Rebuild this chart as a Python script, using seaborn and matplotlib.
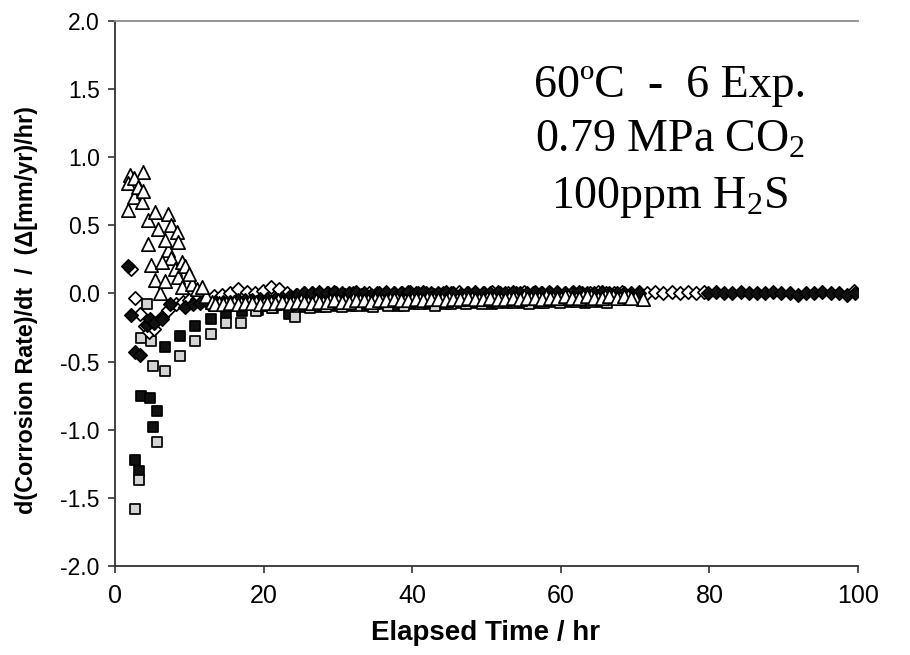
import numpy as np
import pandas as pd
import matplotlib
matplotlib.use("Agg")
import matplotlib.pyplot as plt
import seaborn as sns

# ---------------- data ----------------
# Black diamonds
bd_t_early = [1.8, 2.2, 2.7, 3.4, 4.3, 4.7, 5.2, 6.3, 7.4, 9.4]
bd_v_early = [0.20, -0.16, -0.43, -0.45, -0.23, -0.19, -0.22, -0.19, -0.08, -0.10]
bd_tail1_start, bd_tail1_step = 10.5, 1.0
bd_v_tail1 = [-0.08, -0.07, -0.07, -0.06, -0.06, -0.06, -0.05, -0.05, -0.05, -0.04,
              -0.04, -0.04, -0.03, -0.02, -0.01, 0.00, 0.00, 0.01, 0.00, 0.01,
              0.00, 0.00, 0.01, 0.00, -0.01, 0.00, 0.01, 0.00, 0.00, 0.01,
              0.00, 0.01, 0.00, 0.00, 0.01, 0.00, -0.01, 0.00, 0.01, 0.00,
              0.00, 0.01, 0.00, 0.01, 0.00, 0.00, 0.01, 0.00, 0.00, 0.01,
              0.00, 0.00, 0.01, 0.00, 0.00, 0.01, 0.00, 0.00, 0.00, -0.01, 0.00]
bd_tail2_start, bd_tail2_step = 79.8, 1.1
bd_v_tail2 = [0.00, 0.01, 0.00, 0.00, 0.01, 0.00, 0.00, 0.00, 0.01, 0.00,
              0.00, -0.01, 0.00, 0.00, 0.01, 0.00, 0.00, -0.01, 0.00]

# White diamonds
wd_t_early = [2.2, 2.7, 3.4, 4.0, 4.6, 5.2, 6.3, 7.2, 8.2, 9.1]
wd_v_early = [0.18, -0.03, -0.15, -0.24, -0.28, -0.26, -0.17, -0.12, -0.08, -0.06]
wd_tail_start, wd_tail_step = 10.0, 1.1
wd_v_tail = [-0.05, -0.04, -0.03, -0.02, -0.01, 0.00, 0.03, 0.01, 0.00, 0.02,
             0.05, 0.03, 0.00, -0.01, 0.00, 0.00, -0.01, 0.00, 0.00, -0.01,
             0.00, -0.01, 0.00, 0.00, -0.01, 0.00, 0.00, 0.01, 0.00, 0.00,
             -0.01, 0.00, 0.00, 0.01, 0.00, 0.00, 0.00, 0.01, 0.00, 0.00,
             0.00, 0.01, 0.00, 0.00, 0.01, 0.00, 0.00, 0.01, 0.00, 0.00,
             0.01, 0.00, 0.00, 0.01, 0.00, 0.01, 0.00, 0.01, 0.00, 0.01,
             0.00, 0.01, 0.00, 0.01]
wd_t_last = [99.4]
wd_v_last = [0.02]

# Black squares
bs_t_early = [2.7, 3.2, 3.5, 4.7, 5.1, 5.6, 6.7, 8.8, 10.8, 12.9]
bs_v_early = [-1.22, -1.30, -0.75, -0.77, -0.98, -0.86, -0.39, -0.31, -0.24, -0.19]
bs_tail_start, bs_tail_step = 15.0, 2.1
bs_v_tail = [-0.15, -0.13, -0.12, -0.11, -0.15, -0.10, -0.10, -0.09, -0.09, -0.09,
             -0.08, -0.09, -0.08, -0.08, -0.08, -0.07, -0.07, -0.08, -0.07, -0.07,
             -0.07, -0.06, -0.06, -0.07, -0.06]

# Grey squares
gs_t_early = [2.7, 3.2, 3.5, 4.3, 4.8, 5.1, 5.6, 6.7, 8.75, 10.8, 12.9, 15.0, 16.9, 19.0, 21.1, 24.2]
gs_v_early = [-1.58, -1.37, -0.33, -0.08, -0.35, -0.53, -1.09, -0.57, -0.46, -0.35, -0.30,
              -0.22, -0.22, -0.13, -0.11, -0.175]
gs_tail_start, gs_tail_step = 26.3, 2.1
gs_v_tail = [-0.11, -0.10, -0.10, -0.09, -0.10, -0.09, -0.09, -0.08, -0.09, -0.08,
             -0.08, -0.08, -0.07, -0.07, -0.08, -0.07, -0.07, -0.06, -0.06, -0.07]

# Open triangles, experiment A
ta_t_early = [1.8, 2.0, 2.5, 3.6, 3.8, 4.5, 4.9, 5.4, 6.1, 6.7, 7.2, 7.6, 8.1, 8.5, 9.0, 10.3, 11.0, 12.3]
ta_v_early = [0.61, 0.87, 0.71, 0.67, 0.89, 0.36, 0.21, 0.10, 0.00, 0.09, 0.32, 0.26, 0.18,
              0.12, 0.05, 0.07, 0.03, -0.02]
ta_tail_start, ta_tail_step = 13.0, 1.0
ta_v_tail = [-0.06, -0.07, -0.07, -0.06, -0.07, -0.06, -0.06, -0.07,
             -0.06, -0.05, -0.06, -0.06, -0.05, -0.06, -0.05, -0.06, -0.05, -0.05,
             -0.05, -0.04, -0.05, -0.05, -0.04, -0.05, -0.04, -0.04, -0.05, -0.04,
             -0.04, -0.03, -0.04, -0.04, -0.03, -0.04, -0.03, -0.03, -0.04, -0.03,
             -0.03, -0.04, -0.03, -0.03, -0.02, -0.03, -0.03, -0.02, -0.03, -0.03,
             -0.02, -0.03, -0.02, -0.02, -0.03, -0.02, -0.02, -0.03, -0.02, -0.03, -0.04]

# Open triangles, experiment B
tb_t_early = [1.8, 2.5, 3.1, 3.8, 4.5, 5.4, 5.8, 6.3, 6.7, 7.2, 7.6, 8.3, 8.5, 9.0, 9.4, 9.9, 11.7]
tb_v_early = [0.81, 0.85, 0.78, 0.75, 0.54, 0.60, 0.47, 0.23, 0.39, 0.58, 0.50, 0.45, 0.38,
              0.23, 0.20, 0.14, 0.05]
tb_tail_start, tb_tail_step = 13.5, 1.0
tb_v_tail = [-0.08, -0.08, -0.07, -0.08, -0.07, -0.07, -0.08, -0.07,
             -0.07, -0.06, -0.07, -0.06, -0.06, -0.07, -0.06, -0.06, -0.05, -0.06,
             -0.06, -0.05, -0.05, -0.06, -0.05, -0.05, -0.04, -0.05, -0.05, -0.04,
             -0.05, -0.04, -0.04, -0.05, -0.04, -0.04, -0.03, -0.04, -0.04, -0.03,
             -0.04, -0.04, -0.03, -0.04, -0.03, -0.03, -0.04, -0.03, -0.03, -0.02,
             -0.03, -0.03, -0.02, -0.03, -0.03, -0.02, -0.03, -0.02, -0.03]

x_ticks = [0, 20, 40, 60, 80, 100]
y_ticks = [-2.0, -1.5, -1.0, -0.5, 0.0, 0.5, 1.0, 1.5, 2.0]
annotation_lines = ["60ºC  -  6 Exp.", "0.79 MPa CO$_\\mathrm{2}$", "100ppm H$_\\mathrm{2}$S"]
x_label = "Elapsed Time / hr"
y_label = "d(Corrosion Rate)/dt  /  (Δ[mm/yr)/hr)"


def build(early_t, early_v, tails):
    t = list(early_t)
    v = list(early_v)
    for start, step, vals in tails:
        t += [start + step * i for i in range(len(vals))]
        v += list(vals)
    return pd.DataFrame({"t": t, "v": v})


df_bd = build(bd_t_early, bd_v_early, [(bd_tail1_start, bd_tail1_step, bd_v_tail1),
                                         (bd_tail2_start, bd_tail2_step, bd_v_tail2)])
df_wd = build(wd_t_early + wd_t_last, wd_v_early + wd_v_last, [(wd_tail_start, wd_tail_step, wd_v_tail)])
df_bs = build(bs_t_early, bs_v_early, [(bs_tail_start, bs_tail_step, bs_v_tail)])
df_gs = build(gs_t_early, gs_v_early, [(gs_tail_start, gs_tail_step, gs_v_tail)])
df_ta = build(ta_t_early, ta_v_early, [(ta_tail_start, ta_tail_step, ta_v_tail)])
df_tb = build(tb_t_early, tb_v_early, [(tb_tail_start, tb_tail_step, tb_v_tail)])

# ---------------- style ----------------
sns.set_theme(style="white")
plt.rcParams["font.family"] = ["Liberation Sans", "DejaVu Sans"]
plt.rcParams["text.color"] = "black"
plt.rcParams["axes.labelcolor"] = "black"
plt.rcParams["xtick.color"] = "black"
plt.rcParams["ytick.color"] = "black"
plt.rcParams["mathtext.fontset"] = "custom"
plt.rcParams["mathtext.rm"] = "Liberation Serif"
plt.rcParams["mathtext.it"] = "Liberation Serif:italic"

fig = plt.figure(figsize=(9.1, 6.55), dpi=100)
ax = fig.add_axes([115 / 910, 1 - 566 / 655, (858 - 115) / 910, (566 - 21) / 655])

ew = 1.25
layers = [
    (df_bs, "s", "#111111", 62, 2),
    (df_gs, "s", "#d4d4d4", 62, 3),
    (df_wd, "D", "white", 46, 4),
    (df_bd, "D", "#111111", 46, 5),
    (df_ta, "^", "white", 92, 6),
    (df_tb, "^", "white", 92, 7),
]
for d, mk, fc, s, z in layers:
    sns.scatterplot(data=d, x="t", y="v", marker=mk, color=fc, edgecolor="black",
                    linewidth=ew, s=s, ax=ax, zorder=z, legend=False)

ax.set_xlim(0, 100)
ax.set_ylim(-2, 2)
ax.set_xticks(x_ticks)
ax.set_xticklabels([str(x) for x in x_ticks])
ax.set_yticks(y_ticks)
ax.set_yticklabels([f"{y:.1f}" for y in y_ticks])

for side in ["left", "bottom"]:
    ax.spines[side].set_color("#333333")
    ax.spines[side].set_linewidth(1.3)
ax.spines["top"].set_color("#8c8c8c")
ax.spines["top"].set_linewidth(1.3)
ax.spines["right"].set_visible(False)

ax.tick_params(axis="both", which="major", direction="out", length=5, width=1.2,
               color="#333333", labelcolor="black", left=True, bottom=True)
ax.tick_params(axis="y", labelsize=16.5, pad=6)
ax.tick_params(axis="x", labelsize=18, pad=8)

ax.set_xlabel(x_label, fontsize=20, fontweight="bold", color="black")
ax.xaxis.set_label_coords(0.498, -0.1)
ax.set_ylabel(y_label, fontsize=16.8, fontweight="bold", color="black")
ax.yaxis.set_label_coords(-0.104, 0.47)

ys = [1.444, 1.041, 0.627]
for line, yv in zip(annotation_lines, ys):
    ax.text(74.7, yv, line, ha="center", va="baseline", fontsize=33,
            family=["Liberation Serif", "DejaVu Serif"], color="black", zorder=10)

fig.savefig("out.png", dpi=100)
